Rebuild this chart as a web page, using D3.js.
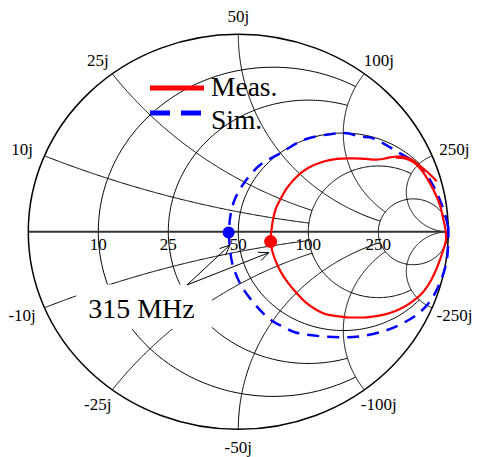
<!DOCTYPE html>
<html>
<head>
<meta charset="utf-8">
<script src="https://cdn.jsdelivr.net/npm/d3@7"></script>
<style>
  html, body { margin: 0; padding: 0; background: #fff; }
  svg { display: block; }
  text { font-family: "Liberation Serif", "Times New Roman", serif; fill: #000; }
</style>
</head>
<body>
<svg id="chart" width="477" height="457"></svg>
<script>
// Reference impedance (ohms) and Smith chart grid
const Z0 = 50;
const gridValues = [0.2, 0.5, 1, 2, 5];            // normalised r and x grid values
const circleLimits = [2, 2, 5, 5, Infinity];       // r circle drawn for |x| <= limit
const arcLimits = [2, 2, 5, 5, Infinity];          // x arc drawn for r <= limit
const resistanceLabels = ["10", "25", "50", "100", "250"];
const reactanceLabels = ["10j", "25j", "50j", "100j", "250j"];
const negReactanceLabels = ["-10j", "-25j", "-50j", "-100j", "-250j"];

// Measured reflection coefficient (real, imaginary)
const measRe = [0.751, 0.794, 0.832, 0.872, 0.913, 0.941, 0.960, 0.975, 0.987, 0.989,
  0.976, 0.951, 0.918, 0.875, 0.818, 0.770, 0.722, 0.665, 0.611, 0.556,
  0.516, 0.460, 0.413, 0.373, 0.318, 0.278, 0.237, 0.203, 0.182, 0.163,
  0.154, 0.157, 0.165, 0.180, 0.199, 0.232, 0.278, 0.332, 0.403, 0.470,
  0.532, 0.589, 0.627, 0.665, 0.699, 0.722, 0.746, 0.784, 0.822, 0.865,
  0.903, 0.945];
const measIm = [0.376, 0.371, 0.354, 0.313, 0.245, 0.186, 0.136, 0.070, 0.009, -0.042,
  -0.092, -0.168, -0.245, -0.311, -0.361, -0.391, -0.411, -0.426, -0.433, -0.434,
  -0.433, -0.426, -0.416, -0.396, -0.355, -0.311, -0.259, -0.204, -0.158, -0.102,
  -0.049, -0.001, 0.060, 0.121, 0.161, 0.222, 0.279, 0.323, 0.355, 0.369,
  0.372, 0.371, 0.367, 0.366, 0.371, 0.377, 0.380, 0.380, 0.368, 0.334,
  0.300, 0.256];

// Simulated reflection coefficient (real, imaginary)
const simRe = [1.000, 1.000, 0.992, 0.960, 0.913, 0.850, 0.770, 0.690, 0.580, 0.484,
  0.341, 0.262, 0.214, 0.167, 0.119, 0.056, 0.008, -0.028, -0.040, -0.044,
  -0.037, -0.016, 0.024, 0.103, 0.199, 0.310, 0.437, 0.516, 0.580, 0.627,
  0.690, 0.770, 0.850, 0.913, 0.960, 0.992, 1.000];
const simIm = [0.029, -0.031, -0.149, -0.259, -0.352, -0.420, -0.470, -0.504, -0.529, -0.534,
  -0.523, -0.506, -0.481, -0.455, -0.413, -0.337, -0.261, -0.163, -0.082, -0.001,
  0.085, 0.166, 0.242, 0.338, 0.397, 0.465, 0.494, 0.499, 0.482, 0.478,
  0.448, 0.397, 0.347, 0.262, 0.161, 0.060, 0.009];

// 315 MHz markers (real, imaginary)
const markerMeas = [0.154, -0.049];
const markerSim = [-0.046, -0.004];

const svg = d3.select("#chart");
const x = d3.scaleLinear().domain([-1, 1]).range([28.3, 448.3]);
const y = d3.scaleLinear().domain([-1, 1]).range([429.3, 34.3]);
const line = d3.line().x(d => x(d[0])).y(d => y(d[1]));

// Normalised impedance -> reflection coefficient
function gamma(r, xi) {
  if (!isFinite(r) || !isFinite(xi)) return [1, 0];
  const den = (r + 1) * (r + 1) + xi * xi;
  return [(r * r - 1 + xi * xi) / den, 2 * xi / den];
}
const TAU = 2 * Math.PI;
const norm = a => ((a % TAU) + TAU) % TAU;

const N = 240;
const gridG = svg.append("g").attr("fill", "none").attr("stroke", "#000").attr("stroke-width", 1);

// Constant-resistance circles
gridValues.forEach((r, i) => {
  const c = r / (1 + r), rad = 1 / (1 + r);
  const lim = circleLimits[i];
  const p = gamma(r, lim);
  const t1 = isFinite(lim) ? Math.atan2(p[1], p[0] - c) : 0;
  const t2 = TAU - t1;
  const pts = d3.range(N + 1).map(k => {
    const t = t1 + (t2 - t1) * k / N;
    return [c + rad * Math.cos(t), rad * Math.sin(t)];
  });
  gridG.append("path").attr("d", line(pts));
});

// Constant-reactance arcs (both signs), from the rim towards the open-circuit point
gridValues.forEach((xv, i) => {
  const lim = arcLimits[i];
  const cy = 1 / xv, rad = 1 / xv;
  const p0 = gamma(0, xv), p1 = gamma(lim, xv);
  const a0 = norm(Math.atan2(p0[1] - cy, p0[0] - 1));
  const a1 = isFinite(lim) ? norm(Math.atan2(p1[1] - cy, p1[0] - 1)) : 1.5 * Math.PI;
  const pts = d3.range(N + 1).map(k => {
    const a = a0 + (a1 - a0) * k / N;
    return [1 + rad * Math.cos(a), cy + rad * Math.sin(a)];
  });
  gridG.append("path").attr("d", line(pts));
  gridG.append("path").attr("d", line(pts.map(d => [d[0], -d[1]])));
});

// Real axis
svg.append("line")
  .attr("x1", x(-1)).attr("x2", x(1)).attr("y1", y(0)).attr("y2", y(0))
  .attr("stroke", "#333").attr("stroke-width", 2);

// Unit circle
svg.append("ellipse")
  .attr("cx", x(0)).attr("cy", y(0))
  .attr("rx", x(1) - x(0)).attr("ry", y(-1) - y(0))
  .attr("fill", "none").attr("stroke", "#000").attr("stroke-width", 1.5);

// Resistance labels along the real axis
svg.append("g").selectAll("text").data(gridValues).join("text")
  .attr("x", r => x((r - 1) / (r + 1)))
  .attr("y", y(0) + 18)
  .attr("text-anchor", "middle")
  .attr("font-size", 17)
  .text((r, i) => resistanceLabels[i]);

// Reactance labels round the rim
const rimLabels = [];
gridValues.forEach((xv, i) => {
  rimLabels.push({ p: gamma(0, xv), t: reactanceLabels[i] });
  rimLabels.push({ p: gamma(0, -xv), t: negReactanceLabels[i] });
});
svg.append("g").selectAll("text").data(rimLabels).join("text")
  .attr("x", d => x(d.p[0] * 1.115))
  .attr("y", d => y(d.p[1] * 1.09))
  .attr("dy", "0.35em")
  .attr("text-anchor", "middle")
  .attr("font-size", 17)
  .text(d => d.t);

// Simulated and measured traces
const simPts = simRe.map((v, i) => [v, simIm[i]]);
const measPts = measRe.map((v, i) => [v, measIm[i]]);
const smooth = d3.line().x(d => x(d[0])).y(d => y(d[1])).curve(d3.curveCatmullRom.alpha(0.5));

svg.append("path").attr("d", smooth(simPts))
  .attr("fill", "none").attr("stroke", "#0000ff").attr("stroke-width", 2.5)
  .attr("stroke-dasharray", "12,8");
svg.append("path").attr("d", smooth(measPts))
  .attr("fill", "none").attr("stroke", "#ff0000").attr("stroke-width", 2.2);

// 315 MHz markers
svg.append("circle").attr("cx", x(markerSim[0])).attr("cy", y(markerSim[1])).attr("r", 6).attr("fill", "#0000ff");
svg.append("circle").attr("cx", x(markerMeas[0])).attr("cy", y(markerMeas[1])).attr("r", 6.5).attr("fill", "#ff0000");

// Annotation box
const boxG = [[-0.772, -0.267], [-0.126, -0.492]];
svg.append("rect")
  .attr("x", x(boxG[0][0])).attr("y", y(boxG[0][1]))
  .attr("width", x(boxG[1][0]) - x(boxG[0][0]))
  .attr("height", y(boxG[1][1]) - y(boxG[0][1]))
  .attr("fill", "#fff");
svg.append("text")
  .attr("x", x(-0.461)).attr("y", y(-0.434))
  .attr("text-anchor", "middle").attr("font-size", 28)
  .text("315 MHz");

// Arrows from the annotation to the markers
const arrowStart = [-0.244, -0.269];
const arrowTips = [[-0.040, -0.067], [0.145, -0.106]];
const arrowG = svg.append("g").attr("stroke", "#000").attr("stroke-width", 1).attr("fill", "none");
arrowTips.forEach(tip => {
  const sx = x(arrowStart[0]), sy = y(arrowStart[1]);
  const tx = x(tip[0]), ty = y(tip[1]);
  arrowG.append("line").attr("x1", sx).attr("y1", sy).attr("x2", tx).attr("y2", ty);
  const ang = Math.atan2(ty - sy, tx - sx);
  const L = 11, spread = 0.42;
  const head = [
    [tx - L * Math.cos(ang - spread), ty - L * Math.sin(ang - spread)],
    [tx, ty],
    [tx - L * Math.cos(ang + spread), ty - L * Math.sin(ang + spread)]
  ];
  arrowG.append("path").attr("d", d3.line()(head));
});

// Legend
const legend = svg.append("g");
legend.append("line").attr("x1", 150).attr("x2", 204).attr("y1", 88).attr("y2", 88)
  .attr("stroke", "#ff0000").attr("stroke-width", 5);
legend.append("text").attr("x", 211).attr("y", 95.5).attr("font-size", 27.5).text("Meas.");
legend.append("line").attr("x1", 150).attr("x2", 204).attr("y1", 113).attr("y2", 113)
  .attr("stroke", "#0000ff").attr("stroke-width", 5).attr("stroke-dasharray", "20,11");
legend.append("text").attr("x", 211).attr("y", 128.5).attr("font-size", 27.5).text("Sim.");
</script>
</body>
</html>
